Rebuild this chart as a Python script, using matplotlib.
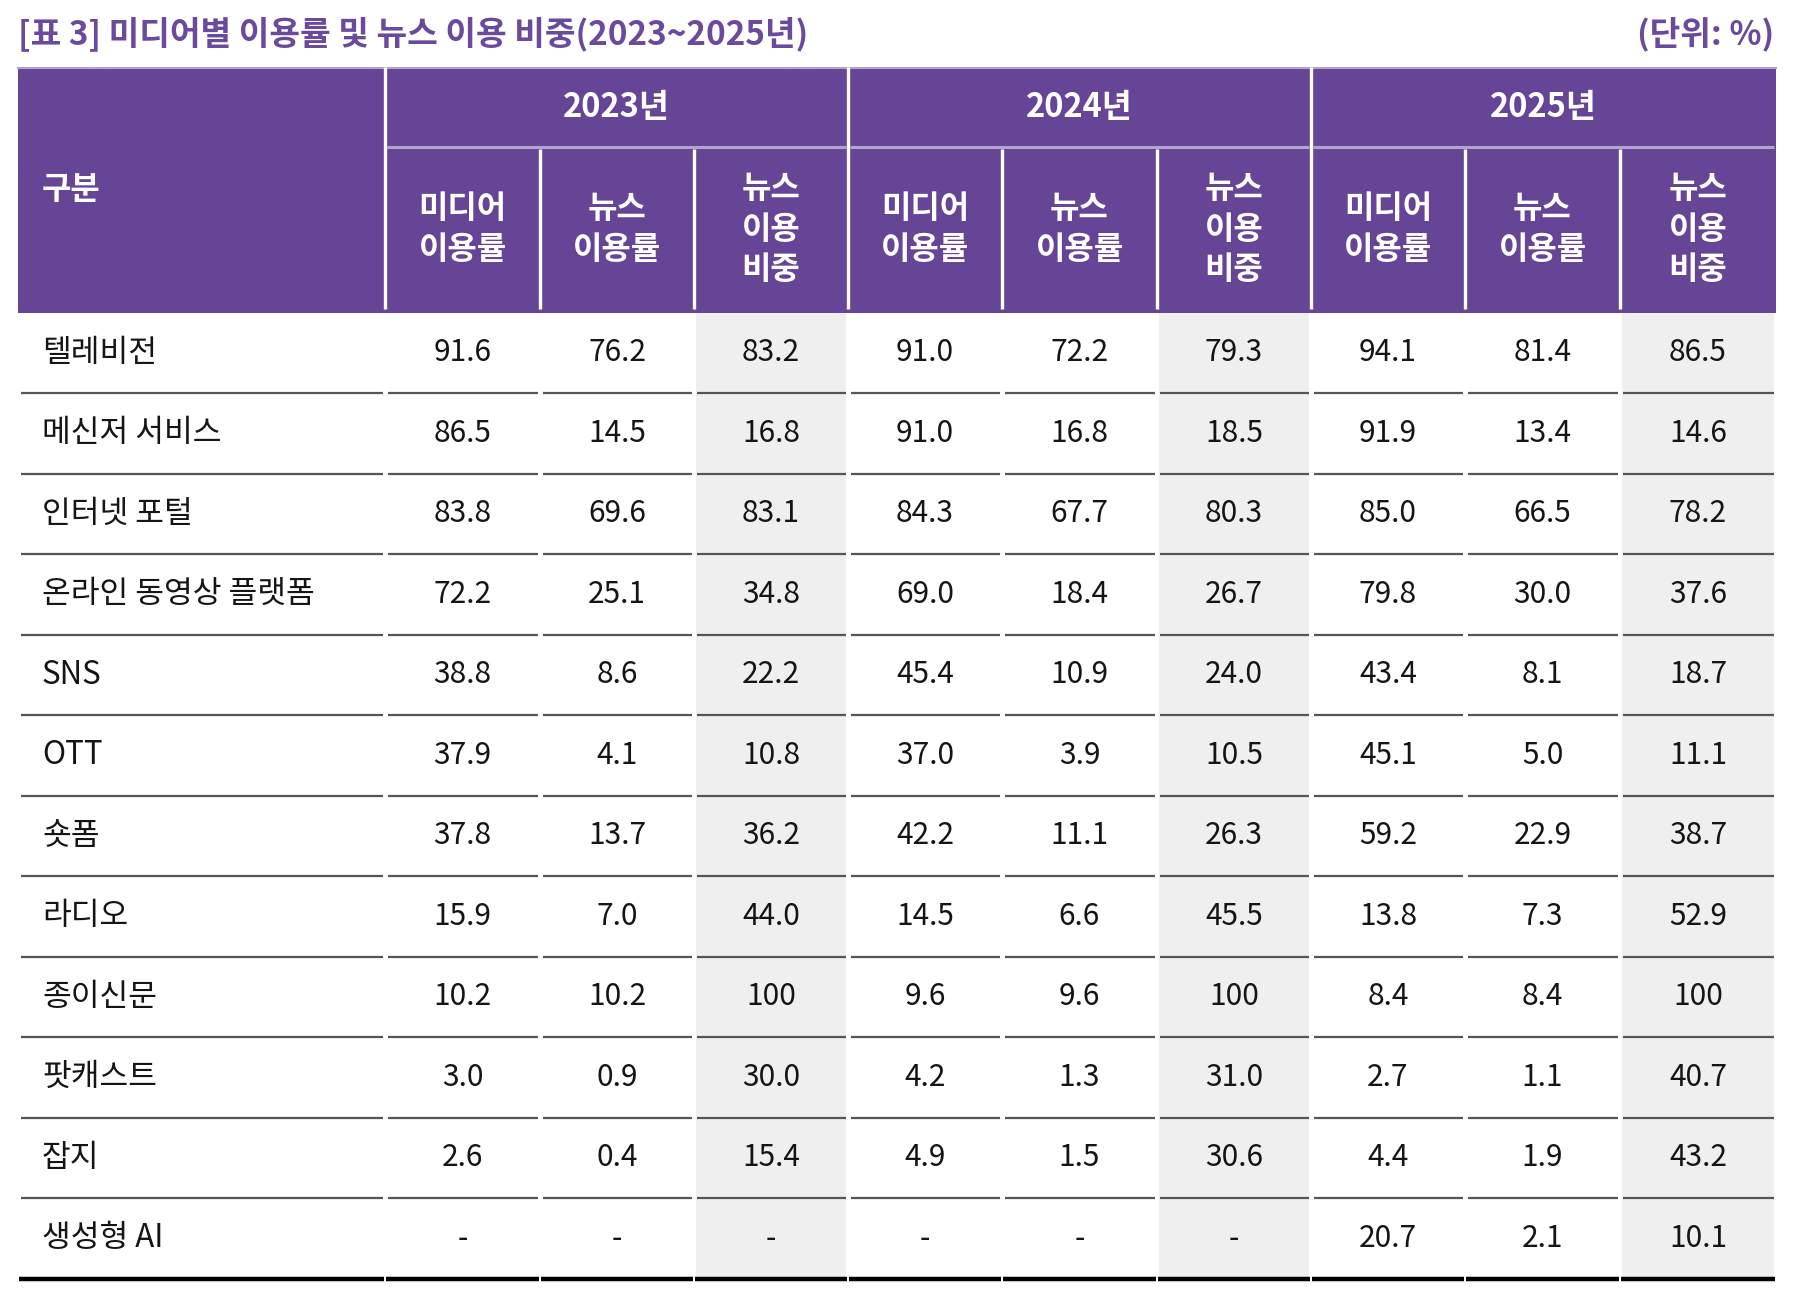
import matplotlib
matplotlib.use("Agg")
import matplotlib.pyplot as plt
from matplotlib.patches import Rectangle

plt.rcParams['font.family'] = ['Noto Sans CJK KR', 'DejaVu Sans']

title = "[표 3] 미디어별 이용률 및 뉴스 이용 비중(2023~2025년)"
unit = "(단위: %)"

categories = ['텔레비전', '메신저 서비스', '인터넷 포털', '온라인 동영상 플랫폼', 'SNS', 'OTT',
              '숏폼', '라디오', '종이신문', '팟캐스트', '잡지', '생성형 AI']
years = ['2023년', '2024년', '2025년']
sub_headers = ['미디어\n이용률', '뉴스\n이용률', '뉴스\n이용\n비중']

media_2023 = [91.6, 86.5, 83.8, 72.2, 38.8, 37.9, 37.8, 15.9, 10.2, 3.0, 2.6, None]
news_2023 = [76.2, 14.5, 69.6, 25.1, 8.6, 4.1, 13.7, 7.0, 10.2, 0.9, 0.4, None]
share_2023 = [83.2, 16.8, 83.1, 34.8, 22.2, 10.8, 36.2, 44.0, 100, 30.0, 15.4, None]
media_2024 = [91.0, 91.0, 84.3, 69.0, 45.4, 37.0, 42.2, 14.5, 9.6, 4.2, 4.9, None]
news_2024 = [72.2, 16.8, 67.7, 18.4, 10.9, 3.9, 11.1, 6.6, 9.6, 1.3, 1.5, None]
share_2024 = [79.3, 18.5, 80.3, 26.7, 24.0, 10.5, 26.3, 45.5, 100, 31.0, 30.6, None]
media_2025 = [94.1, 91.9, 85.0, 79.8, 43.4, 45.1, 59.2, 13.8, 8.4, 2.7, 4.4, 20.7]
news_2025 = [81.4, 13.4, 66.5, 30.0, 8.1, 5.0, 22.9, 7.3, 8.4, 1.1, 1.9, 2.1]
share_2025 = [86.5, 14.6, 78.2, 37.6, 18.7, 11.1, 38.7, 52.9, 100, 40.7, 43.2, 10.1]

columns = [media_2023, news_2023, share_2023,
           media_2024, news_2024, share_2024,
           media_2025, news_2025, share_2025]

PURPLE = '#674596'
TITLE_PURPLE = '#6a4a9c'
LAVENDER = '#b3a2cc'
SHADE = '#efefef'
LINE = '#555555'
TEXT = '#151515'


def fmt(v):
    if v is None:
        return '-'
    if v == 100:
        return '100'
    return '{:.1f}'.format(v)


W, H = 1793, 1294
fig = plt.figure(figsize=(W / 100, H / 100), dpi=100)
fig.set_facecolor('white')
ax = fig.add_axes([0, 0, 1, 1])
ax.set_xlim(0, W)
ax.set_ylim(H, 0)
ax.axis('off')

# layout (pixels)
col_edges = [18, 385, 540, 694, 848, 1002, 1157, 1311, 1465, 1620, 1776]
head_top, head_mid, head_bot = 66.5, 147, 312.5
row_h = 80.5
n_rows = len(categories)

# title + unit
ax.text(18, 34, title, fontsize=24, fontweight='bold', color=TITLE_PURPLE,
        ha='left', va='center')
ax.text(1774, 34, unit, fontsize=24, fontweight='bold', color=TITLE_PURPLE,
        ha='right', va='center')

# header block
ax.add_patch(Rectangle((col_edges[0], head_top), col_edges[-1] - col_edges[0],
                       head_bot - head_top, facecolor=PURPLE, edgecolor='none'))
ax.plot([col_edges[0], col_edges[-1]], [head_top + 1, head_top + 1], color=LAVENDER, lw=1.5)

# lavender line under the year row
for y in range(3):
    x0 = col_edges[1 + 3 * y] + 2
    x1 = col_edges[4 + 3 * y] - 2
    ax.plot([x0, x1], [head_mid, head_mid], color=LAVENDER, lw=2.2, solid_capstyle='butt')

# white dividers in header
for i, x in enumerate(col_edges[1:-1]):
    if (i % 3) == 0:
        ax.plot([x, x], [head_top, head_bot - 4], color='white', lw=2.4, solid_capstyle='butt')
    else:
        ax.plot([x, x], [head_mid + 1.5, head_bot - 4], color='white', lw=2.4, solid_capstyle='butt')

# header texts
ax.text(42, (head_top + head_bot) / 2, '구분', fontsize=23, fontweight='bold',
        color='white', ha='left', va='center')
for y, yr in enumerate(years):
    xc = (col_edges[1 + 3 * y] + col_edges[4 + 3 * y]) / 2
    ax.text(xc, (head_top + head_mid) / 2 + 1, yr, fontsize=23.5, fontweight='bold',
            color='white', ha='center', va='center')
    for k, sh in enumerate(sub_headers):
        c = 1 + 3 * y + k
        xc = (col_edges[c] + col_edges[c + 1]) / 2
        ax.text(xc, (head_mid + head_bot) / 2, sh, fontsize=23, fontweight='bold',
                color='white', ha='center', va='center', linespacing=1.35)

# shaded share columns
body_bot = head_bot + n_rows * row_h
for y in range(3):
    c = 3 + 3 * y
    ax.add_patch(Rectangle((col_edges[c] + 2, head_bot), col_edges[c + 1] - col_edges[c] - 4,
                           body_bot - head_bot, facecolor=SHADE, edgecolor='none'))

# rows
for r, cat in enumerate(categories):
    yc = head_bot + (r + 0.5) * row_h
    ax.text(42, yc, cat, fontsize=22.5, color=TEXT, ha='left', va='center')
    for c, vals in enumerate(columns):
        xc = (col_edges[c + 1] + col_edges[c + 2]) / 2
        ax.text(xc, yc, fmt(vals[r]), fontsize=21.5, color=TEXT, ha='center', va='center')

    yl = head_bot + (r + 1) * row_h
    last = r == n_rows - 1
    for c in range(len(col_edges) - 1):
        gap = 1 if last else 2.5
        ax.plot([col_edges[c] + gap, col_edges[c + 1] - gap], [yl, yl],
                color='black' if last else LINE, lw=3.2 if last else 1.6,
                solid_capstyle='butt')

fig.savefig('out.png', dpi=100, facecolor='white')
